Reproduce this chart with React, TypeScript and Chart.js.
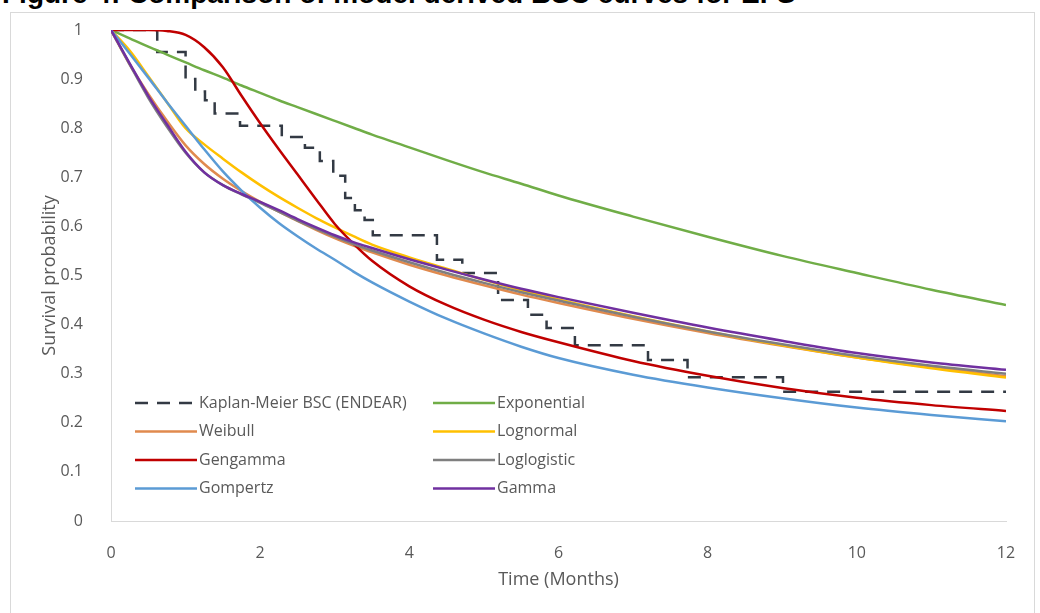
import React, { useEffect, useRef } from 'react';
import { Chart, registerables } from 'chart.js';

Chart.register(...registerables);

// ---------- data ----------
const timeGrid = [0, 0.25, 0.5, 0.75, 1, 1.25, 1.5, 1.75, 2, 2.25, 2.5, 2.75, 3, 3.25, 3.5, 4, 4.5, 5, 5.5, 6, 7, 8, 9, 10, 11, 12];

const exponential = [1, 0.983, 0.966, 0.95, 0.934, 0.918, 0.903, 0.887, 0.872, 0.857, 0.843, 0.829, 0.815, 0.801, 0.787, 0.761, 0.735, 0.71, 0.687, 0.663, 0.62, 0.579, 0.54, 0.505, 0.471, 0.44];
const weibull = [1, 0.93, 0.87, 0.815, 0.765, 0.727, 0.697, 0.672, 0.65, 0.63, 0.611, 0.593, 0.576, 0.561, 0.547, 0.522, 0.5, 0.48, 0.461, 0.444, 0.412, 0.383, 0.357, 0.333, 0.313, 0.295];
const lognormal = [1, 0.958, 0.906, 0.853, 0.8, 0.767, 0.738, 0.71, 0.684, 0.66, 0.638, 0.617, 0.598, 0.58, 0.563, 0.537, 0.514, 0.491, 0.47, 0.451, 0.417, 0.386, 0.358, 0.333, 0.311, 0.292];
const gengamma = [1, 1, 1, 0.998, 0.99, 0.965, 0.924, 0.866, 0.81, 0.757, 0.706, 0.655, 0.605, 0.565, 0.53, 0.478, 0.44, 0.41, 0.385, 0.364, 0.326, 0.296, 0.271, 0.251, 0.236, 0.224];
const loglogistic = [1, 0.93, 0.862, 0.803, 0.75, 0.71, 0.684, 0.665, 0.648, 0.63, 0.612, 0.595, 0.579, 0.564, 0.551, 0.527, 0.505, 0.485, 0.466, 0.449, 0.416, 0.386, 0.36, 0.336, 0.316, 0.3];
const gompertz = [1, 0.952, 0.903, 0.853, 0.805, 0.757, 0.712, 0.673, 0.638, 0.607, 0.58, 0.555, 0.532, 0.508, 0.486, 0.447, 0.412, 0.382, 0.355, 0.332, 0.298, 0.272, 0.25, 0.231, 0.216, 0.203];
const gamma = [1, 0.932, 0.866, 0.808, 0.752, 0.71, 0.684, 0.666, 0.65, 0.633, 0.615, 0.598, 0.582, 0.568, 0.556, 0.533, 0.512, 0.492, 0.473, 0.456, 0.424, 0.394, 0.367, 0.342, 0.323, 0.308];

const kmTimes = [0, 0.62, 1.0, 1.13, 1.26, 1.39, 1.73, 2.29, 2.6, 2.8, 2.98, 3.14, 3.27, 3.4, 3.51, 4.37, 4.71, 5.19, 5.59, 5.84, 6.22, 7.2, 7.73, 9.01, 12];
const kmSurvival = [1, 0.955, 0.9, 0.875, 0.857, 0.83, 0.805, 0.782, 0.76, 0.733, 0.703, 0.658, 0.633, 0.613, 0.582, 0.532, 0.505, 0.45, 0.42, 0.393, 0.358, 0.328, 0.293, 0.263, 0.263];

const seriesLabels = ['Kaplan-Meier BSC (ENDEAR)', 'Exponential', 'Weibull', 'Lognormal', 'Gengamma', 'Loglogistic', 'Gompertz', 'Gamma'];
const seriesColors = ['#333a44', '#70ad47', '#e08a4e', '#ffc000', '#c00000', '#7f7f7f', '#5b9bd5', '#7030a0'];

const xTickValues = [0, 2, 4, 6, 8, 10, 12];
const yTickLabels = ['0', '0.1', '0.2', '0.3', '0.4', '0.5', '0.6', '0.7', '0.8', '0.9', '1'];

const titleText = 'Figure 4: Comparison of model derived BSC curves for EFS';
const xAxisTitle = 'Time (Months)';
const yAxisTitle = 'Survival probability';

const FONT = "'Open Sans', sans-serif";
const TEXT = '#595959';

const legendInside = {
  id: 'legendInside',
  afterDraw(chart: any) {
    const ctx = chart.ctx;
    const area = chart.chartArea;
    ctx.save();
    ctx.font = `16px ${FONT}`;
    ctx.textBaseline = 'middle';
    ctx.fillStyle = TEXT;
    chart.data.datasets.forEach((ds: any, i: number) => {
      const col = i % 2;
      const row = Math.floor(i / 2);
      const x0 = area.left + 24 + col * 298;
      const y = area.top + 373 + row * 28.5;
      ctx.save();
      ctx.strokeStyle = ds.borderColor;
      ctx.lineWidth = ds.borderWidth;
      ctx.setLineDash(ds.borderDash || []);
      ctx.beginPath();
      ctx.moveTo(x0, y);
      ctx.lineTo(x0 + 62, y);
      ctx.stroke();
      ctx.restore();
      ctx.fillText(ds.label, x0 + 64, y);
    });
    ctx.restore();
  },
};

export default function App() {
  const ref = useRef<HTMLCanvasElement | null>(null);

  useEffect(() => {
    if (!ref.current) return;
    const curves = [exponential, weibull, lognormal, gengamma, loglogistic, gompertz, gamma];
    const datasets: any[] = [
      {
        label: seriesLabels[0],
        data: kmTimes.map((t, i) => ({ x: t, y: kmSurvival[i] })),
        borderColor: seriesColors[0],
        borderWidth: 2.5,
        borderDash: [13, 9],
        stepped: 'before',
        pointRadius: 0,
        order: 7,
      },
      ...curves.map((vals, k) => ({
        label: seriesLabels[k + 1],
        data: timeGrid.map((t, i) => ({ x: t, y: vals[i] })),
        borderColor: seriesColors[k + 1],
        borderWidth: 2.5,
        pointRadius: 0,
        cubicInterpolationMode: 'monotone',
        order: 6 - k,
      })),
    ];

    const chart = new Chart(ref.current, {
      type: 'line',
      data: { datasets },
      plugins: [legendInside],
      options: {
        animation: false,
        responsive: false,
        layout: { padding: { left: 10, right: 34, top: 30, bottom: 0 } },
        plugins: { legend: { display: false }, tooltip: { enabled: false } },
        scales: {
          x: {
            type: 'linear',
            min: 0,
            max: 12,
            afterFit: (s: any) => { s.height = 92; },
            afterBuildTicks: (s: any) => { s.ticks = xTickValues.map((v) => ({ value: v })); },
            grid: { display: false },
            border: { display: true, color: '#d9d9d9', width: 1 },
            ticks: { color: TEXT, font: { family: FONT, size: 16 }, padding: 15, maxRotation: 0 },
            title: { display: true, text: xAxisTitle, color: TEXT, font: { family: FONT, size: 18 }, padding: 22 },
          },
          y: {
            type: 'linear',
            min: 0,
            max: 1,
            afterFit: (s: any) => { s.width = 101; },
            ticks: {
              stepSize: 0.1,
              color: TEXT,
              font: { family: FONT, size: 16 },
              padding: 20,
              callback: (_v: any, index: number) => yTickLabels[index],
            },
            grid: { display: false },
            border: { display: true, color: '#d9d9d9', width: 1 },
            title: { display: true, text: yAxisTitle, color: TEXT, font: { family: FONT, size: 18 }, padding: { top: 29, bottom: 0 } },
          },
        },
      } as any,
    });
    return () => chart.destroy();
  }, []);

  return (
    <div style={{ position: 'fixed', left: 0, top: 0, width: 1040, height: 613, background: '#fff', overflow: 'hidden' }}>
      <div style={{ position: 'absolute', left: 2, top: -22, fontFamily: "'Liberation Sans', Arial, sans-serif", fontWeight: 'bold', fontSize: 28, color: '#000', whiteSpace: 'nowrap' }}>
        {titleText}
      </div>
      <div style={{ position: 'absolute', left: 10, top: 12, width: 1025, height: 620, border: '1px solid #d9d9d9', boxSizing: 'border-box' }} />
      <canvas ref={ref} width={1040} height={613} style={{ position: 'absolute', left: 0, top: 0, width: 1040, height: 613 }} />
    </div>
  );
}
